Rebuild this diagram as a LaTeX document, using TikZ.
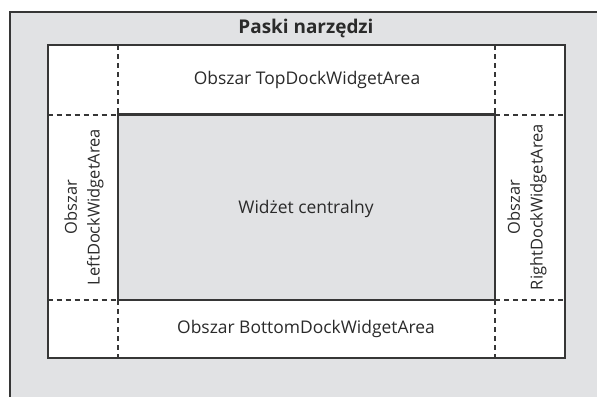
\documentclass[tikz,border=0pt]{standalone}
\usepackage{fontspec}
\setmainfont{Open Sans}
\definecolor{bg}{HTML}{E1E2E4}
\definecolor{ln}{HTML}{363636}
\definecolor{tx}{HTML}{2A2A2A}
\begin{document}
\begin{tikzpicture}[x=1bp,y=-1bp,
  frame/.style={draw=ln,line width=2bp},
  dashline/.style={draw=ln,line width=2bp,dash pattern=on 5bp off 4bp},
  lbl/.style={text=tx,font=\fontsize{17.5}{24.5}\selectfont,align=center},
  vlbl/.style={lbl,rotate=90,font=\fontsize{16.5}{23}\selectfont}]
\useasboundingbox (0,0) rectangle (597,396);
\fill[white] (0,0) rectangle (597,396);
\fill[bg] (9.5,11.5) rectangle (600,400);
\draw[frame] (9.5,400) -- (9.5,11.5) -- (600,11.5);
\draw[frame,fill=white] (47.5,45) rectangle (565,358);
\draw[dashline] (118,45) -- (118,114.5);
\draw[dashline] (495,45) -- (495,114.5);
\draw[dashline] (118,300) -- (118,358);
\draw[dashline] (495,300) -- (495,358);
\draw[dashline] (47.5,114.5) -- (118,114.5);
\draw[dashline] (495,114.5) -- (565,114.5);
\draw[dashline] (47.5,300) -- (118,300);
\draw[dashline] (495,300) -- (565,300);
\draw[draw=ln,line width=2.5bp,fill=bg] (118,114.5) rectangle (495,300);
\node[lbl,font=\fontsize{19}{22}\selectfont\bfseries] (title) at (306,28) {Paski narzędzi};
\node[lbl] (top) at (307,80) {Obszar TopDockWidgetArea};
\node[lbl] (center) at (306,209) {Widżet centralny};
\node[lbl] (bottom) at (306,329) {Obszar BottomDockWidgetArea};
\node[vlbl] (left) at (84,207) {Obszar\\LeftDockWidgetArea};
\node[vlbl] (right) at (527,207) {Obszar\\RightDockWidgetArea};
\end{tikzpicture}
\end{document}
